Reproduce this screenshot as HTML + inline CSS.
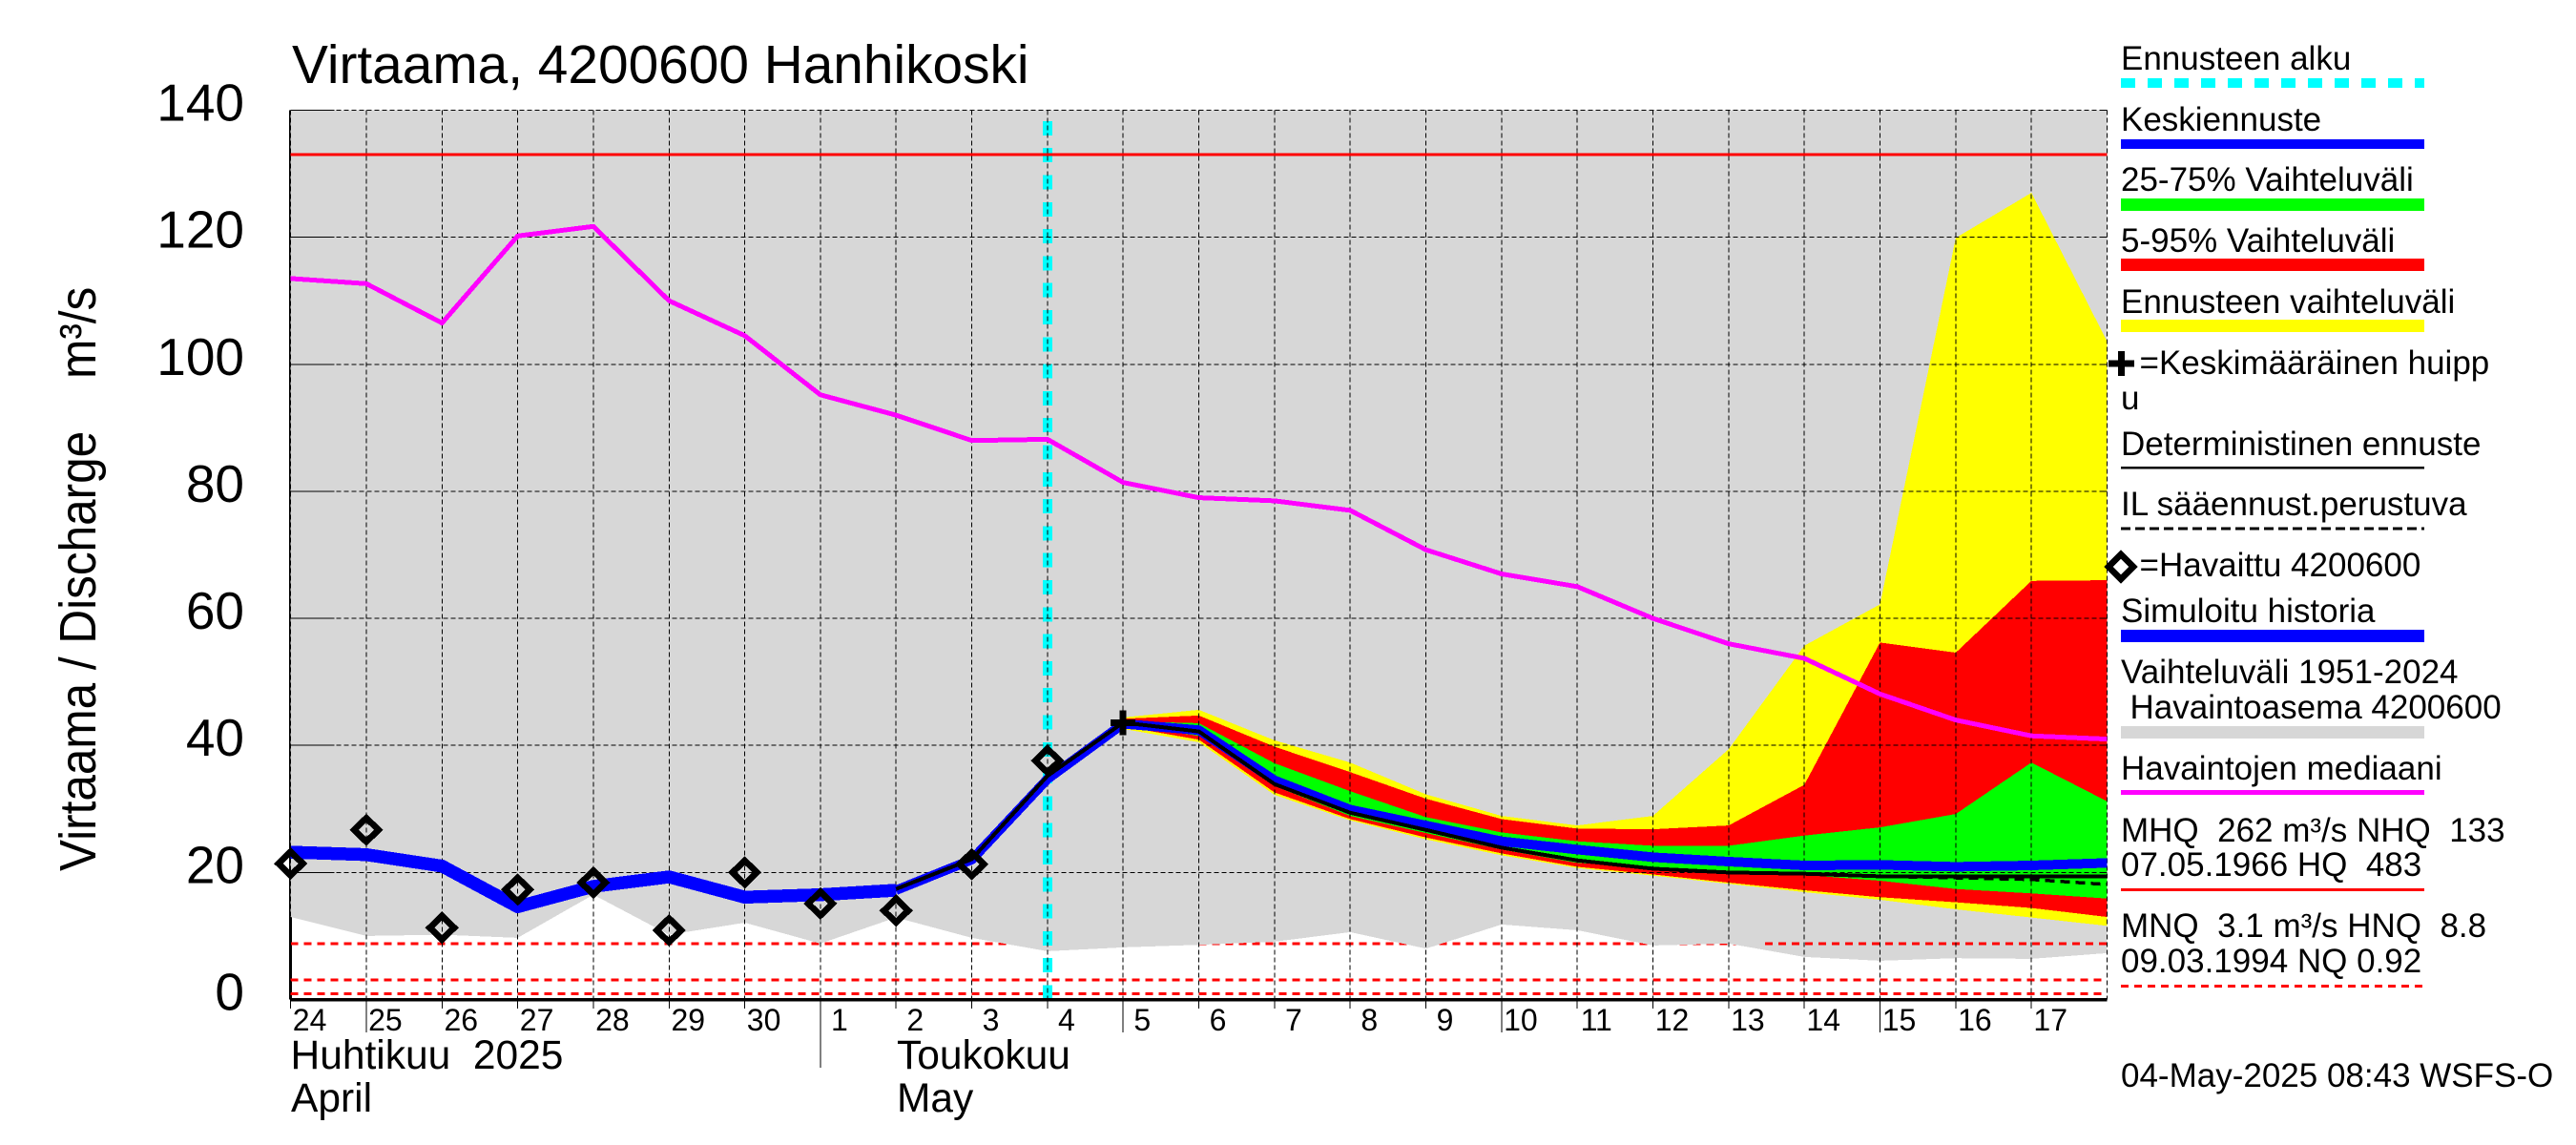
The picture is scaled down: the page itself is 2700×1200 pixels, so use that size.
<!DOCTYPE html>
<html lang="fi">
<head>
<meta charset="utf-8">
<title>Virtaama, 4200600 Hanhikoski</title>
<style>
html,body{margin:0;padding:0;background:#fff;}
svg{display:block;}
text{font-family:"Liberation Sans",Arial,sans-serif;fill:#000;white-space:pre;}
.leg{font-size:35px;}
</style>
</head>
<body>
<svg id="chart" xmlns="http://www.w3.org/2000/svg" width="2700" height="1200" viewBox="0 0 2700 1200" shape-rendering="crispEdges">
  <rect x="0" y="0" width="2700" height="1200" fill="#fff"/>
  <g id="plot"></g>
  <g id="axes"></g>

  <text x="306" y="87" font-size="56.8">Virtaama, 4200600 Hanhikoski</text>
  <text transform="translate(100,913) rotate(-90) scale(1,1.08)" font-size="49.5">Virtaama / Discharge    m³/s</text>
  <text x="304.5" y="1120" font-size="42.5">Huhtikuu  2025</text>
  <text x="305" y="1165" font-size="42.5">April</text>
  <text x="940" y="1120" font-size="42.5">Toukokuu</text>
  <text x="940" y="1165" font-size="42.5">May</text>

  <g>
    <text class="leg" x="2223" y="73">Ennusteen alku</text>
    <line x1="2223" y1="87" x2="2541" y2="87" stroke="#00ffff" stroke-width="10" stroke-dasharray="15 13"/>
    <text class="leg" x="2223" y="137">Keskiennuste</text>
    <rect x="2223" y="146" width="318" height="10" fill="#0000ff"/>
    <text class="leg" x="2223" y="200">25-75% Vaihteluväli</text>
    <rect x="2223" y="208" width="318" height="13" fill="#00ff00"/>
    <text class="leg" x="2223" y="264">5-95% Vaihteluväli</text>
    <rect x="2223" y="271" width="318" height="13" fill="#ff0000"/>
    <text class="leg" x="2223" y="328">Ennusteen vaihteluväli</text>
    <rect x="2223" y="335" width="318" height="13" fill="#ffff00"/>
    <path d="M2210 381H2237M2223.5 368V394" stroke="#000" stroke-width="7" fill="none"/>
    <text class="leg" x="2242.5" y="392">=Keskimääräinen huipp</text>
    <text class="leg" x="2223" y="429">u</text>
    <text class="leg" x="2223" y="477">Deterministinen ennuste</text>
    <rect x="2223" y="489" width="318" height="2.5" fill="#000"/>
    <text class="leg" x="2223" y="540">IL sääennust.perustuva</text>
    <line x1="2223" y1="554" x2="2541" y2="554" stroke="#000" stroke-width="3" stroke-dasharray="10 5"/>
    <polygon points="2223,581 2236,594 2223,607 2210,594" fill="none" stroke="#000" stroke-width="6.7"/>
    <text class="leg" x="2242.5" y="604">=Havaittu 4200600</text>
    <text class="leg" x="2223" y="652">Simuloitu historia</text>
    <rect x="2223" y="660" width="318" height="13" fill="#0000ff"/>
    <text class="leg" x="2223" y="716">Vaihteluväli 1951-2024</text>
    <text class="leg" x="2232.5" y="753">Havaintoasema 4200600</text>
    <rect x="2223" y="761" width="318" height="13" fill="#d7d7d7"/>
    <text class="leg" x="2223" y="817">Havaintojen mediaani</text>
    <rect x="2223" y="828" width="318" height="5" fill="#ff00ff"/>
    <text class="leg" x="2223" y="882">MHQ  262 m³/s NHQ  133</text>
    <text class="leg" x="2223" y="918">07.05.1966 HQ  483</text>
    <rect x="2223" y="931" width="318" height="3" fill="#ff0000"/>
    <text class="leg" x="2223" y="982">MNQ  3.1 m³/s HNQ  8.8</text>
    <text class="leg" x="2223" y="1019">09.03.1994 NQ 0.92</text>
    <line x1="2223" y1="1033.5" x2="2541" y2="1033.5" stroke="#ff0000" stroke-width="3" stroke-dasharray="8 6"/>
  </g>
  <text class="leg" x="2223" y="1139">04-May-2025 08:43 WSFS-O</text>
</svg>
<script>
// Day axis labels (index 0 = 24 April 2025)
const dayLabels = [24,25,26,27,28,29,30,1,2,3,4,5,6,7,8,9,10,11,12,13,14,15,16,17];
const longTickLabels = [25,5,10,15];
const monthStartIndex = 7;
const forecastStartIndex = 10;
const forecastBandIndex = 11;
const deterministicStartIndex = 8;

// Value axis
const yTicks = [0,20,40,60,80,100,120,140];

// Reference levels (m3/s)
const nhqLevel = 133;
const hnqLevel = 8.8;
const mnqLevel = 3.1;
const nqLevel = 0.92;
const hnqOverlayStartDay = 19.48;

// Long-term median and the lower edge of the historical range (index 0..24)
const medianFlow = [113.5,112.7,106.5,120.2,121.7,110,104.5,95.2,92,88,88.2,81.4,79,78.5,77,70.8,67,65,60,56,53.7,48.1,44,41.5,41];
const historicalMin = [13,10,10.2,9.7,16.5,10.2,12.1,8.8,12.9,9.7,7.6,8.2,8.6,9.1,10.6,8,11.8,10.9,8.5,8.8,6.7,6.1,6.5,6.4,7.3];

// Simulated history (index 0..8) and observations (index 0..10)
const simulatedHistory = [23.2,22.8,21,14.6,17.8,19.3,16.1,16.5,17.2];
const observedFlow = [21.4,26.7,11.3,17.3,18.4,10.9,20,15.1,14,21.3,37.6];

// Forecast bands (index 11..24)
const rangeTop = [44.4,45.6,40.8,37.3,32.3,28.9,27.4,28.9,39.4,55.7,62.2,119.9,127,103.6];
const rangeBottom = [42.6,40.5,32.2,28.2,25.2,22.7,20.7,19.5,18.2,16.9,15.7,14.2,12.9,11.6];
const p95 = [44.2,44.7,39.8,35.8,31.6,28.4,26.9,26.8,27.4,33.8,56.2,54.6,65.9,66];
const p5 = [43,40.9,32.6,28.4,25.5,23,20.9,19.7,18.4,17.2,16.1,15.3,14.4,13];
const p75 = [43.8,43.5,37.2,32.8,28.7,26.3,24.9,24.2,24.2,25.8,27.1,29.2,37.3,31.2];
const p25 = [43.2,41.5,33.6,28.9,26.2,23.6,21.5,20.9,20.2,19.6,18.7,17.4,16.7,15.9];

// Forecast lines (index 8..24)
const meanForecast = [17.2,22,34.7,43.4,42.4,34.5,29.9,27.4,24.9,23.6,22.4,21.7,21.1,21.2,20.9,21.1,21.5];
const deterministicForecast = [17.4,22.1,35.2,43.6,42.2,33.9,29.4,26.7,23.9,21.9,20.6,20,19.8,19.4,19.4,19.4,19.4];
const weatherForecast = [17.4,22.1,35.2,43.6,42.2,33.9,29.4,26.7,23.9,21.9,20.6,20,19.8,19.4,19.15,18.9,18.1];

// Mean peak marker
const peakDay = [11];
const peakFlow = [43.6];

const plotLeft = 304.6, dayWidth = 79.33, plotRight = xScale(24);
function xScale(i){ return 304.6 + i * 79.33; }
function yScale(v){ return 1047.5 - v * 6.657; }
const SVGNS = 'http://www.w3.org/2000/svg';
const plot = document.getElementById('plot');
const axes = document.getElementById('axes');

function make(parent, tag, attrs){
  const el = document.createElementNS(SVGNS, tag);
  for (const k in attrs) el.setAttribute(k, attrs[k]);
  parent.appendChild(el);
  return el;
}
function seriesPoints(values, start){
  return values.map((v, i) => xScale(start + i).toFixed(1) + ',' + yScale(v).toFixed(1));
}
function bandPoints(top, bottom, start){
  return seriesPoints(top, start).concat(seriesPoints(bottom, start).reverse()).join(' ');
}

// Left axis sits beneath the gray range
let el = make(plot, 'line', {x1: plotLeft, y1: yScale(140), x2: plotLeft, y2: yScale(0), stroke: '#000', 'stroke-width': 3});



// HNQ, MNQ, NQ dashed levels under the gray range
[[hnqLevel,'hnq-line'],[mnqLevel,'mnq-line'],[nqLevel,'nq-line']].forEach(function(item){
  const line = make(plot, 'line', {x1: plotLeft, y1: yScale(item[0]), x2: plotRight, y2: yScale(item[0]), stroke: '#ff0000', 'stroke-width': 3, 'stroke-dasharray': '8 6'});
  
  
});

// Gray historical range
const grayTop = medianFlow.map(() => 140);
el = make(plot, 'polygon', {points: bandPoints(grayTop, historicalMin, 0), fill: '#d7d7d7'});



// Part of the HNQ line that is drawn above the range
el = make(plot, 'line', {x1: xScale(hnqOverlayStartDay), y1: yScale(hnqLevel), x2: plotRight, y2: yScale(hnqLevel), stroke: '#ff0000', 'stroke-width': 3, 'stroke-dasharray': '8 6'});



// Forecast bands
el = make(plot, 'polygon', {points: bandPoints(rangeTop, rangeBottom, forecastBandIndex), fill: '#ffff00'});


el = make(plot, 'polygon', {points: bandPoints(p95, p5, forecastBandIndex), fill: '#ff0000'});


el = make(plot, 'polygon', {points: bandPoints(p75, p25, forecastBandIndex), fill: '#00ff00'});



// Forecast start marker
el = make(plot, 'line', {x1: xScale(forecastStartIndex), y1: yScale(0), x2: xScale(forecastStartIndex), y2: yScale(140), stroke: '#00ffff', 'stroke-width': 10, 'stroke-dasharray': '15 13.3'});



// Grid
yTicks.forEach(function(t){
  if (t === 0) return;
  const g = make(plot, 'line', {x1: plotLeft, y1: yScale(t), x2: plotRight, y2: yScale(t), stroke: '#000', 'stroke-width': 1, 'stroke-dasharray': '5 3'});
  
  
});
dayLabels.concat([null]).forEach(function(d, i){
  const g = make(plot, 'line', {x1: xScale(i), y1: yScale(140), x2: xScale(i), y2: yScale(0), stroke: '#000', 'stroke-width': 1, 'stroke-dasharray': '5 3'});
  
  
});

// Bottom axis
el = make(plot, 'line', {x1: plotLeft, y1: yScale(0), x2: plotRight, y2: yScale(0), stroke: '#000', 'stroke-width': 3.5});



// NHQ level
el = make(plot, 'line', {x1: plotLeft, y1: yScale(nhqLevel), x2: plotRight, y2: yScale(nhqLevel), stroke: '#ff0000', 'stroke-width': 3});



// Median line
el = make(plot, 'polyline', {points: seriesPoints(medianFlow, 0).join(' '), fill: 'none', stroke: '#ff00ff', 'stroke-width': 5, 'stroke-linejoin': 'round'});



// Simulated history
el = make(plot, 'polyline', {points: seriesPoints(simulatedHistory, 0).join(' '), fill: 'none', stroke: '#0000ff', 'stroke-width': 13.5, 'stroke-linejoin': 'round'});



// Forecast lines
el = make(plot, 'polyline', {points: seriesPoints(meanForecast, deterministicStartIndex).join(' '), fill: 'none', stroke: '#0000ff', 'stroke-width': 10, 'stroke-linejoin': 'round'});


el = make(plot, 'polyline', {points: seriesPoints(deterministicForecast, deterministicStartIndex).join(' '), fill: 'none', stroke: '#000', 'stroke-width': 4, 'stroke-linejoin': 'round'});


el = make(plot, 'polyline', {points: seriesPoints(weatherForecast, deterministicStartIndex).join(' '), fill: 'none', stroke: '#000', 'stroke-width': 3.5, 'stroke-dasharray': '10 6'});



// Observations
observedFlow.forEach(function(v, i){
  const cx = xScale(i), cy = yScale(v);
  const m = make(plot, 'polygon', {points: [cx + ',' + (cy - 12.4), (cx + 12.8) + ',' + cy, cx + ',' + (cy + 12.4), (cx - 12.8) + ',' + cy].join(' '), fill: 'none', stroke: '#000', 'stroke-width': 6.7});
  
  
});

// Mean peak marker
peakDay.forEach(function(d, i){
  const cx = xScale(d), cy = yScale(peakFlow[i]);
  const m = make(plot, 'path', {d: 'M' + (cx - 13) + ' ' + cy + 'H' + (cx + 13) + 'M' + cx + ' ' + (cy - 13) + 'V' + (cy + 13), stroke: '#000', 'stroke-width': 7, fill: 'none'});
  
  
});

// Y ticks and labels
yTicks.forEach(function(t){
  const tick = make(axes, 'line', {x1: plotLeft, y1: yScale(t), x2: plotLeft + 46, y2: yScale(t), stroke: '#000', 'stroke-width': 1});
  
  
  const rt = make(axes, 'line', {x1: plotRight - 6, y1: yScale(t), x2: plotRight, y2: yScale(t), stroke: '#000', 'stroke-width': 1});
  
  
  const lab = make(axes, 'text', {x: 256, y: yScale(t) + 11, 'font-size': 55, 'text-anchor': 'end'});
  
  
  lab.textContent = t;
});

// Day ticks and labels
dayLabels.forEach(function(d, i){
  let end = 1057;
  if (longTickLabels.indexOf(d) >= 0) end = 1082;
  if (i === monthStartIndex) end = 1119;
  const tick = make(axes, 'line', {x1: xScale(i), y1: yScale(0), x2: xScale(i), y2: end, stroke: '#000', 'stroke-width': 1});
  
  
  const lab = make(axes, 'text', {x: xScale(i) + 20, y: 1080, 'font-size': 32, 'text-anchor': 'middle'});
  
  
  lab.textContent = d;
});
</script>
</body>
</html>
